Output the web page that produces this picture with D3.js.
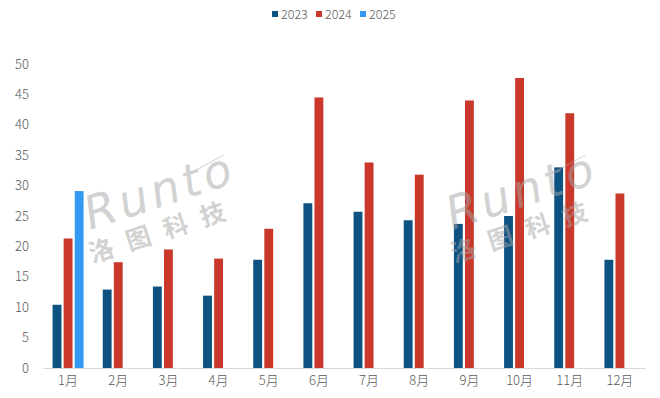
<!DOCTYPE html>
<html>
<head>
<meta charset="utf-8">
<script src="https://cdn.jsdelivr.net/npm/d3@7"></script>
<style>
  body { margin: 0; background: #fff; }
  text { font-family: "Noto Sans CJK SC", "Liberation Sans", sans-serif; }
</style>
</head>
<body>
<div class="chart"></div>
<script>
var months = ["1月","2月","3月","4月","5月","6月","7月","8月","9月","10月","11月","12月"];
var series = ["2023","2024","2025"];
var colors = ["#0e5282","#c9382a","#3399f3"];
var v2023 = [10.4, 12.9, 13.4, 11.9, 17.8, 27.1, 25.7, 24.3, 23.7, 25.0, 33.0, 17.8];
var v2024 = [21.3, 17.4, 19.5, 18.0, 22.9, 44.5, 33.8, 31.8, 44.0, 47.7, 41.9, 28.7];
var v2025 = [29.1];
var yTicks = [0, 5, 10, 15, 20, 25, 30, 35, 40, 45, 50];

var svgWidth = 660, svgHeight = 398;
var svg = d3.select(".chart").append("svg")
    .attr("width", svgWidth)
    .attr("height", svgHeight);

var x = d3.scaleBand().domain(months).range([43, 645]);
var xSub = d3.scaleBand().domain(series).range([-15.5, 15.5]).paddingInner(0.2);
var y = d3.scaleLinear().domain([0, 50]).range([368, 64]);

// y tick labels (no gridlines)
svg.append("g").selectAll("text")
    .data(yTicks)
    .join("text")
    .attr("x", 29)
    .attr("y", d => y(d))
    .attr("dy", "0.35em")
    .attr("text-anchor", "end")
    .attr("font-size", "13px")
    .attr("font-weight", "300")
    .attr("fill", "#595959")
    .text(d => d);

// bars
var allVals = [v2023, v2024, v2025];
var barData = [];
allVals.forEach((vals, i) => {
    vals.forEach((v, j) => barData.push({m: months[j], s: series[i], v: v, c: colors[i]}));
});

svg.append("g").selectAll("rect")
    .data(barData)
    .join("rect")
    .attr("x", d => x(d.m) + x.bandwidth() / 2 + xSub(d.s))
    .attr("width", xSub.bandwidth())
    .attr("y", d => y(d.v))
    .attr("height", d => y(0) - y(d.v))
    .attr("fill", d => d.c);

// x axis
var xAxis = svg.append("g")
    .attr("transform", `translate(0,${y(0)})`)
    .call(d3.axisBottom(x).tickSize(0).tickPadding(8));
xAxis.select(".domain").attr("stroke", "#d9d9d9").attr("stroke-width", 1.2);
xAxis.selectAll("text")
    .attr("font-size", "13px")
    .attr("font-weight", "300")
    .attr("fill", "#595959")
    .style("font-family", '"Noto Sans CJK SC", sans-serif');

// legend
var legendX = [272, 316, 360];
var legend = svg.append("g").selectAll("g")
    .data(series)
    .join("g")
    .attr("transform", (d, i) => `translate(${legendX[i]},0)`);
legend.append("rect")
    .attr("x", 0).attr("y", 11)
    .attr("width", 6).attr("height", 6)
    .attr("fill", (d, i) => colors[i]);
legend.append("text")
    .attr("x", 9).attr("y", 19)
    .attr("font-size", "12.5px")
    .attr("font-weight", "300")
    .attr("fill", "#595959")
    .text(d => d);

// watermarks
[[90, 230], [452, 230]].forEach(p => {
    var wm = svg.append("g")
        .attr("transform", `translate(${p[0]},${p[1]}) rotate(-18)`)
        .attr("opacity", 0.5)
        .attr("pointer-events", "none");
    wm.append("text")
        .attr("x", 0).attr("y", 0)
        .attr("font-size", "46px")
        .attr("font-style", "italic")
        .attr("letter-spacing", "4px")
        .attr("fill", "#a6a6a6")
        .style("font-family", '"DejaVu Sans", sans-serif')
        .style("font-weight", "200")
        .text("Runto");
    wm.append("line")
        .attr("x1", 118).attr("y1", -24)
        .attr("x2", 150).attr("y2", -30)
        .attr("stroke", "#b0b0b0").attr("stroke-width", 1);
    wm.append("text")
        .attr("x", -8).attr("y", 32)
        .attr("font-size", "25px")
        .attr("font-weight", "bold")
        .attr("letter-spacing", "14px")
        .attr("fill", "#a6a6a6")
        .text("洛图科技");
});
</script>
</body>
</html>
